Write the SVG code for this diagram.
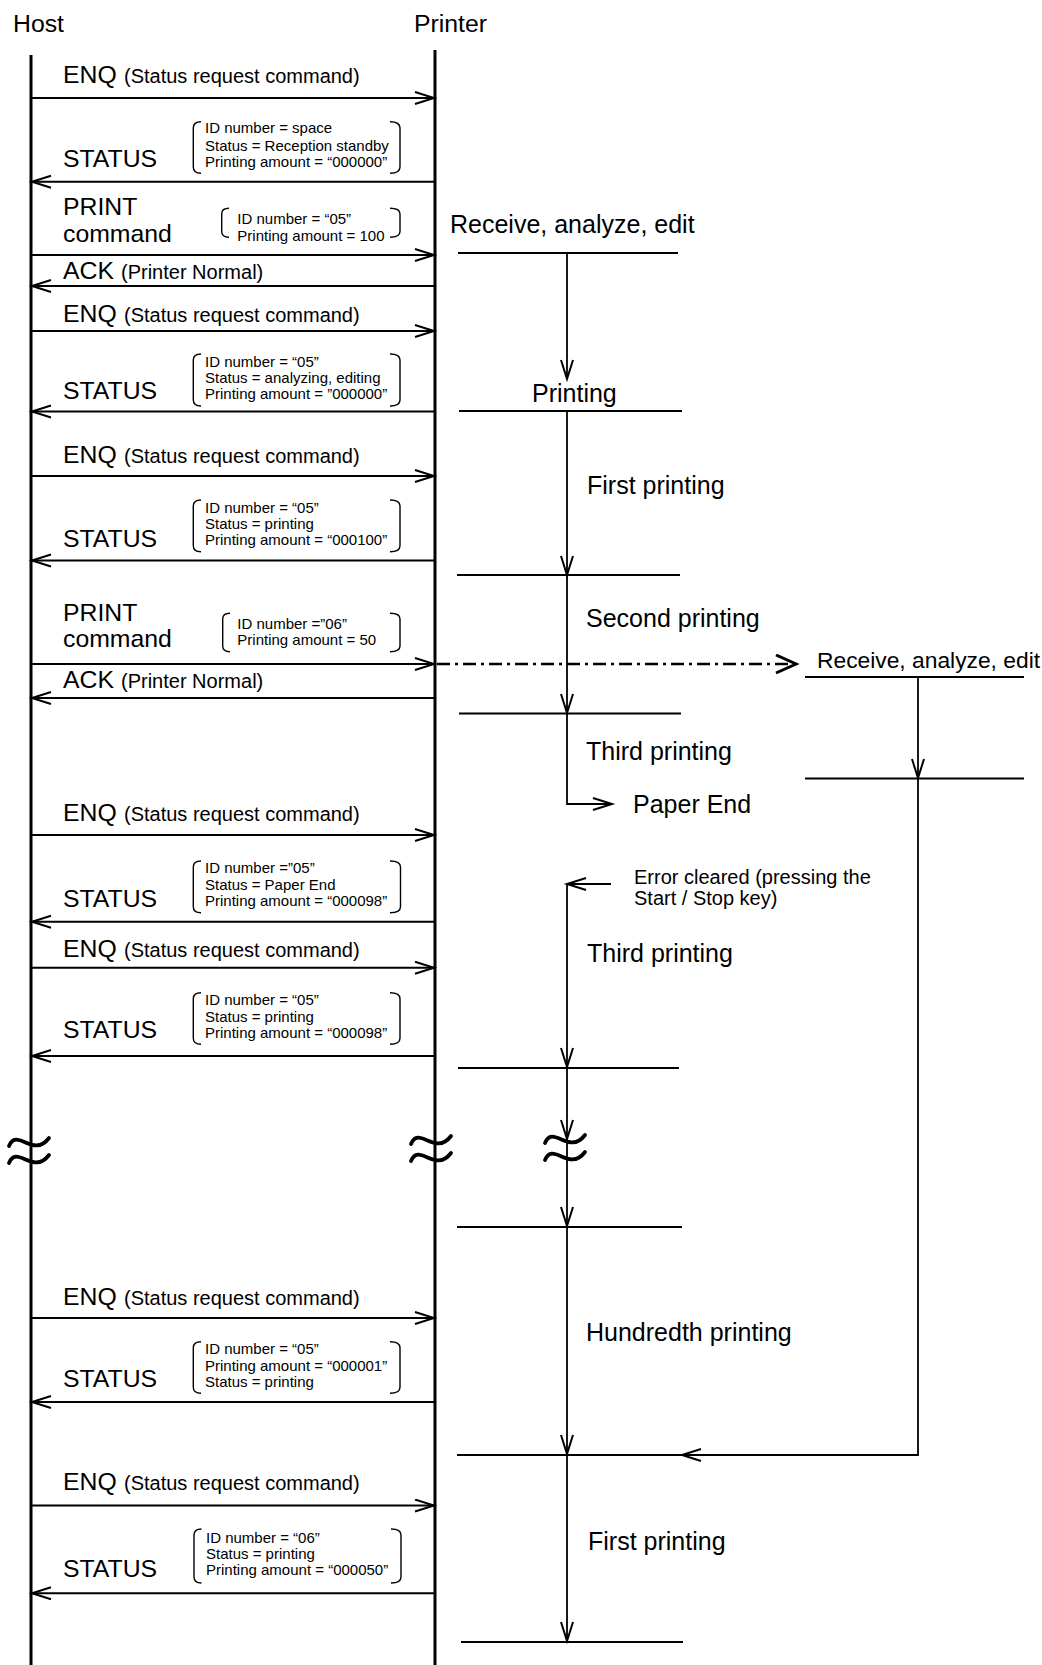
<svg xmlns="http://www.w3.org/2000/svg" width="1042" height="1665" viewBox="0 0 1042 1665">
<defs>
<style>
text{font-family:"Liberation Sans",Arial,Helvetica,sans-serif;fill:#000}
.big{font-size:24.8px}
.sub{font-size:20px}
.br{font-size:15px}
.rl{font-size:25px}
.life{stroke:#000;stroke-width:3;fill:none}
.msg{stroke:#000;stroke-width:2;fill:none}
.bk{stroke:#000;stroke-width:1.4;fill:none}
.tl{stroke:#000;stroke-width:2;fill:none}
.va{stroke:#000;stroke-width:1.8;fill:none}
.brk{stroke:#000;stroke-width:3.8;fill:none;stroke-linecap:round}
</style>
<marker id="ah" markerUnits="userSpaceOnUse" markerWidth="24" markerHeight="16" refX="20" refY="7" orient="auto" viewBox="0 0 24 16">
<path d="M1,1 L20,7 L1,13" fill="none" stroke="#000" stroke-width="2"/>
</marker>
<marker id="ah2" markerUnits="userSpaceOnUse" markerWidth="26" markerHeight="22" refX="21" refY="10" orient="auto" viewBox="0 0 26 22">
<path d="M1,1 L21,10 L1,19" fill="none" stroke="#000" stroke-width="3"/>
</marker>
</defs>
<rect width="1042" height="1665" fill="#fff"/>

<g id="host">
<text class="big" x="13" y="32">Host</text>
<line class="life" x1="31" y1="55" x2="31" y2="1665"/>
<path class="brk" d="M9,1146 C17,1127 33,1159 49,1138"/>
<path class="brk" d="M9,1163 C17,1144 33,1176 49,1155"/>
</g>

<g id="printer">
<text class="big" x="414" y="32">Printer</text>
<line class="life" x1="435" y1="50" x2="435" y2="1665"/>
<path class="brk" d="M411,1144 C419,1125 435,1157 451,1136"/>
<path class="brk" d="M411,1161 C419,1142 435,1174 451,1153"/>
</g>

<g id="m1-enq">
<text class="big" x="63" y="83">ENQ</text>
<text class="sub" x="124" y="83">(Status request command)</text>
</g>
<g id="m2-status">
<text class="big" x="63" y="166.7">STATUS</text>
<path class="bk" d="M201,121.7 Q193.3,121.7 193.3,128 L193.3,167 Q193.3,173.3 201,173.3 M390,121.7 Q400,121.7 400,128 L400,167 Q400,173.3 390,173.3"/>
<text class="br" x="205" y="133.3">ID number = space</text>
<text class="br" x="205" y="150.7">Status = Reception standby</text>
<text class="br" x="205" y="166.7">Printing amount = “000000”</text>
</g>
<g id="m3-print">
<text class="big" x="63" y="215">PRINT</text>
<text class="big" x="63" y="241.7">command</text>
<path class="bk" d="M229,208.3 Q221.7,208.3 221.7,214 L221.7,231.5 Q221.7,237.3 229,237.3 M390,208.3 Q400,208.3 400,214 L400,231.5 Q400,237.3 390,237.3"/>
<text class="br" x="237.3" y="224">ID number = “05”</text>
<text class="br" x="237.3" y="240.7">Printing amount = 100</text>
</g>
<g id="m4-ack">
<text class="big" x="63" y="279">ACK</text>
<text class="sub" x="121" y="279">(Printer Normal)</text>
</g>
<g id="m5-enq">
<text class="big" x="63" y="321.7">ENQ</text>
<text class="sub" x="124" y="321.7">(Status request command)</text>
</g>
<g id="m6-status">
<text class="big" x="63" y="399">STATUS</text>
<path class="bk" d="M201,354 Q193.3,354 193.3,360 L193.3,400 Q193.3,406 201,406 M390,354 Q400,354 400,360 L400,400 Q400,406 390,406"/>
<text class="br" x="205" y="366.7">ID number = “05”</text>
<text class="br" x="205" y="383.3">Status = analyzing, editing</text>
<text class="br" x="205" y="399">Printing amount = ”000000”</text>
</g>
<g id="m7-enq">
<text class="big" x="63" y="462.7">ENQ</text>
<text class="sub" x="124" y="462.7">(Status request command)</text>
</g>
<g id="m8-status">
<text class="big" x="63" y="546.7">STATUS</text>
<path class="bk" d="M201,500 Q193.3,500 193.3,506 L193.3,545.7 Q193.3,551.7 201,551.7 M390,500 Q400,500 400,506 L400,545.7 Q400,551.7 390,551.7"/>
<text class="br" x="205" y="513.3">ID number = “05”</text>
<text class="br" x="205" y="529.3">Status = printing</text>
<text class="br" x="205" y="545">Printing amount = “000100”</text>
</g>
<g id="m9-print">
<text class="big" x="63" y="620.7">PRINT</text>
<text class="big" x="63" y="646.7">command</text>
<path class="bk" d="M230,613.3 Q222.7,613.3 222.7,619 L222.7,646 Q222.7,651.7 230,651.7 M390,613.3 Q400,613.3 400,619 L400,646 Q400,651.7 390,651.7"/>
<text class="br" x="237.3" y="629.3">ID number =”06”</text>
<text class="br" x="237.3" y="645.3">Printing amount = 50</text>
</g>
<g id="m10-ack">
<text class="big" x="63" y="688.3">ACK</text>
<text class="sub" x="121" y="688.3">(Printer Normal)</text>
</g>
<g id="m11-enq">
<text class="big" x="63" y="820.7">ENQ</text>
<text class="sub" x="124" y="820.7">(Status request command)</text>
</g>
<g id="m12-status">
<text class="big" x="63" y="906.7">STATUS</text>
<path class="bk" d="M201,861 Q193.3,861 193.3,867 L193.3,906.7 Q193.3,912.7 201,912.7 M390,861 Q400.5,861 400.5,867 L400.5,906.7 Q400.5,912.7 390,912.7"/>
<text class="br" x="205" y="872.7">ID number =”05”</text>
<text class="br" x="205" y="890">Status = Paper End</text>
<text class="br" x="205" y="906">Printing amount = “000098”</text>
</g>
<g id="m13-enq">
<text class="big" x="63" y="956.7">ENQ</text>
<text class="sub" x="124" y="956.7">(Status request command)</text>
</g>
<g id="m14-status">
<text class="big" x="63" y="1038.3">STATUS</text>
<path class="bk" d="M201,992.7 Q193.3,992.7 193.3,998.7 L193.3,1038.3 Q193.3,1044.3 201,1044.3 M390,992.7 Q400,992.7 400,998.7 L400,1038.3 Q400,1044.3 390,1044.3"/>
<text class="br" x="205" y="1005">ID number = “05”</text>
<text class="br" x="205" y="1022.3">Status = printing</text>
<text class="br" x="205" y="1038.3">Printing amount = “000098”</text>
</g>
<g id="m15-enq">
<text class="big" x="63" y="1305">ENQ</text>
<text class="sub" x="124" y="1305">(Status request command)</text>
</g>
<g id="m16-status">
<text class="big" x="63" y="1387.3">STATUS</text>
<path class="bk" d="M201,1341.7 Q193.3,1341.7 193.3,1347.7 L193.3,1387.3 Q193.3,1393.3 201,1393.3 M390,1341.7 Q400,1341.7 400,1347.7 L400,1387.3 Q400,1393.3 390,1393.3"/>
<text class="br" x="205" y="1354">ID number = “05”</text>
<text class="br" x="205" y="1370.7">Printing amount = “000001”</text>
<text class="br" x="205" y="1387.3">Status = printing</text>
</g>
<g id="m17-enq">
<text class="big" x="63" y="1490">ENQ</text>
<text class="sub" x="124" y="1490">(Status request command)</text>
</g>
<g id="m18-status">
<text class="big" x="63" y="1576.7">STATUS</text>
<path class="bk" d="M201.5,1529 Q194,1529 194,1535 L194,1577 Q194,1583 201.5,1583 M391,1529 Q401,1529 401,1535 L401,1577 Q401,1583 391,1583"/>
<text class="br" x="206" y="1542.7">ID number = “06”</text>
<text class="br" x="206" y="1559">Status = printing</text>
<text class="br" x="206" y="1575">Printing amount = “000050”</text>
</g>

<g id="printer-states">
<text class="rl" x="450" y="233">Receive, analyze, edit</text>
<line class="tl" x1="458" y1="253" x2="678" y2="253"/>
<text class="rl" x="532" y="401.5">Printing</text>
<line class="tl" x1="459" y1="411" x2="682" y2="411"/>
<text class="rl" x="587" y="494">First printing</text>
<line class="tl" x1="457" y1="575" x2="680" y2="575"/>
<text class="rl" x="586" y="627">Second printing</text>
<line class="tl" x1="459" y1="713.5" x2="681" y2="713.5"/>
<text class="rl" x="586" y="760">Third printing</text>
<text class="rl" x="633" y="813">Paper End</text>
<text class="sub" x="634" y="884">Error cleared (pressing the</text>
<text class="sub" x="634" y="905">Start / Stop key)</text>
<text class="rl" x="587" y="962">Third printing</text>
<line class="tl" x1="458" y1="1068" x2="679" y2="1068"/>
<path class="brk" d="M545,1143 C553,1124 569,1156 585,1135"/>
<path class="brk" d="M545,1160 C553,1141 569,1173 585,1152"/>
<line class="tl" x1="457" y1="1227" x2="682" y2="1227"/>
<text class="rl" x="586" y="1341">Hundredth printing</text>
<line class="tl" x1="457" y1="1455" x2="682" y2="1455"/>
<text class="rl" x="588" y="1550">First printing</text>
<line class="tl" x1="461" y1="1642" x2="683" y2="1642"/>
</g>

<g id="job2-states">
<text x="817" y="668" style="font-size:22.8px">Receive, analyze, edit</text>
<line class="tl" x1="805" y1="677" x2="1024" y2="677"/>
<line class="tl" x1="805" y1="778.5" x2="1024" y2="778.5"/>
</g>

<g id="connectors">
<line class="msg" x1="31" y1="98" x2="434" y2="98" marker-end="url(#ah)"/>
<line class="msg" x1="435" y1="181.7" x2="32" y2="181.7" marker-end="url(#ah)"/>
<line class="msg" x1="31" y1="255" x2="434" y2="255" marker-end="url(#ah)"/>
<line class="msg" x1="435" y1="286" x2="32" y2="286" marker-end="url(#ah)"/>
<line class="msg" x1="31" y1="331" x2="434" y2="331" marker-end="url(#ah)"/>
<line class="msg" x1="435" y1="411.5" x2="32" y2="411.5" marker-end="url(#ah)"/>
<line class="msg" x1="31" y1="476" x2="434" y2="476" marker-end="url(#ah)"/>
<line class="msg" x1="435" y1="560.5" x2="32" y2="560.5" marker-end="url(#ah)"/>
<line class="msg" x1="31" y1="664" x2="434" y2="664" marker-end="url(#ah)"/>
<line class="msg" x1="435" y1="698" x2="32" y2="698" marker-end="url(#ah)"/>
<line class="msg" x1="31" y1="835" x2="434" y2="835" marker-end="url(#ah)"/>
<line class="msg" x1="435" y1="921.7" x2="32" y2="921.7" marker-end="url(#ah)"/>
<line class="msg" x1="31" y1="967.7" x2="434" y2="967.7" marker-end="url(#ah)"/>
<line class="msg" x1="435" y1="1056" x2="32" y2="1056" marker-end="url(#ah)"/>
<line class="msg" x1="31" y1="1318" x2="434" y2="1318" marker-end="url(#ah)"/>
<line class="msg" x1="435" y1="1402" x2="32" y2="1402" marker-end="url(#ah)"/>
<line class="msg" x1="31" y1="1505.5" x2="434" y2="1505.5" marker-end="url(#ah)"/>
<line class="msg" x1="435" y1="1593.3" x2="32" y2="1593.3" marker-end="url(#ah)"/>

<line x1="437" y1="664" x2="796" y2="664" stroke="#000" stroke-width="2.6" stroke-dasharray="13,5,3,5" marker-end="url(#ah2)"/>

<line class="va" x1="567" y1="253" x2="567" y2="379" marker-end="url(#ah)"/>
<line class="va" x1="567" y1="411" x2="567" y2="575" marker-end="url(#ah)"/>
<line class="va" x1="567" y1="575" x2="567" y2="713" marker-end="url(#ah)"/>
<path class="va" d="M567,713 L567,804 L612,804" marker-end="url(#ah)"/>
<line class="va" x1="611" y1="884" x2="567" y2="884" marker-end="url(#ah)"/>
<line class="va" x1="567" y1="884" x2="567" y2="1067" marker-end="url(#ah)"/>
<line class="va" x1="567" y1="1067" x2="567" y2="1139" marker-end="url(#ah)"/>
<line class="va" x1="567" y1="1139" x2="567" y2="1226" marker-end="url(#ah)"/>
<line class="va" x1="567" y1="1227" x2="567" y2="1454" marker-end="url(#ah)"/>
<line class="va" x1="567" y1="1455" x2="567" y2="1641" marker-end="url(#ah)"/>

<line class="va" x1="918" y1="677" x2="918" y2="778" marker-end="url(#ah)"/>
<path class="va" d="M918,778 L918,1455 L682,1455" marker-end="url(#ah)"/>
</g>
</svg>
